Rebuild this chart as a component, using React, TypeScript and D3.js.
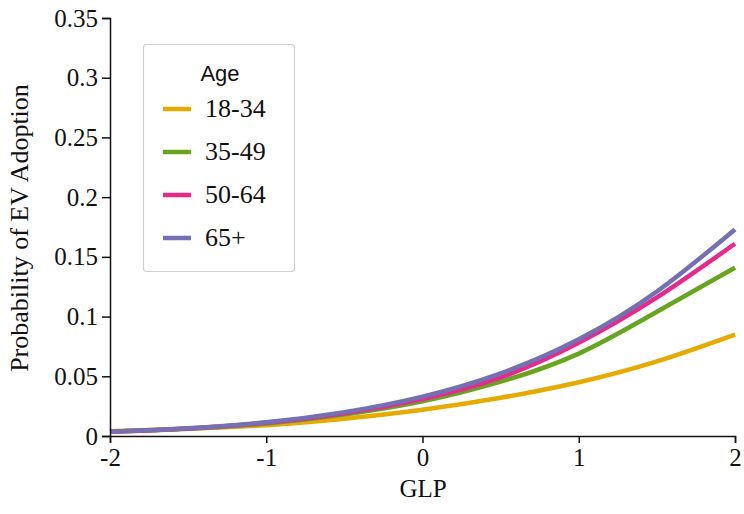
import React, { useEffect, useRef } from 'react';
import * as d3 from 'd3';

const glp = [-2, -1.5, -1, -0.5, 0, 0.5, 1, 1.5, 2];
const ages = ['18-34', '35-49', '50-64', '65+'];
const age1834 = [0.004, 0.006, 0.009, 0.0145, 0.022, 0.032, 0.045, 0.0625, 0.085];
const age3549 = [0.0035, 0.006, 0.0105, 0.018, 0.029, 0.0455, 0.069, 0.104, 0.141];
const age5064 = [0.0035, 0.0062, 0.011, 0.019, 0.031, 0.049, 0.078, 0.116, 0.161];
const age65 = [0.0035, 0.0065, 0.0115, 0.02, 0.033, 0.0525, 0.081, 0.121, 0.173];
const colors = ['#E6AB02', '#66A61E', '#E7298A', '#7570B3'];
const yTicks = [0, 0.05, 0.1, 0.15, 0.2, 0.25, 0.3, 0.35];
const xTicks = [-2, -1, 0, 1, 2];

const App = () => {
    const ref = useRef<SVGSVGElement>(null);

    useEffect(() => {
        const svg = d3.select(ref.current);
        svg.selectAll('*').remove();
        const serif = "'Liberation Serif', 'Times New Roman', serif";

        const x = d3.scaleLinear().domain([-2, 2]).range([110, 735]);
        const y = d3.scaleLinear().domain([0, 0.35]).range([436, 18]);

        const series = [age1834, age3549, age5064, age65];
        const line = d3.line<number>()
            .x((d, i) => x(glp[i]))
            .y(d => y(d))
            .curve(d3.curveNatural);

        series.forEach((s, i) => {
            svg.append('path')
                .attr('d', line(s))
                .attr('fill', 'none')
                .attr('stroke', colors[i])
                .attr('stroke-width', 4.5);
        });

        const yAxis = d3.axisLeft(y)
            .tickValues(yTicks)
            .tickFormat(d => String(+d))
            .tickSize(8)
            .tickPadding(4);
        const gy = svg.append('g')
            .attr('transform', 'translate(110,0)')
            .call(yAxis);

        const xAxis = d3.axisBottom(x)
            .tickValues(xTicks)
            .tickFormat(d => String(d))
            .tickSize(7)
            .tickPadding(5);
        const gx = svg.append('g')
            .attr('transform', 'translate(0,436)')
            .call(xAxis);

        [gx, gy].forEach(g => {
            g.attr('font-family', null).attr('font-size', null);
            g.selectAll('text')
                .style('font-family', serif)
                .style('font-size', '25px')
                .attr('fill', '#111');
        });

        svg.selectAll('.domain, .tick line')
            .attr('stroke', '#111')
            .attr('stroke-width', 1.5);

        svg.append('text')
            .attr('x', 423)
            .attr('y', 497)
            .attr('text-anchor', 'middle')
            .style('font-family', serif)
            .style('font-size', '25px')
            .attr('fill', '#111')
            .text('GLP');

        svg.append('text')
            .attr('transform', 'translate(28,228) rotate(-90)')
            .attr('text-anchor', 'middle')
            .style('font-family', serif)
            .style('font-size', '26px')
            .attr('fill', '#111')
            .text('Probability of EV Adoption');

        // legend
        const lg = svg.append('g');
        lg.append('rect')
            .attr('x', 143.5)
            .attr('y', 44.5)
            .attr('width', 151)
            .attr('height', 227)
            .attr('rx', 3)
            .attr('fill', 'white')
            .attr('stroke', '#d0d0d0')
            .attr('stroke-width', 1.2);
        lg.append('text')
            .attr('x', 220)
            .attr('y', 81)
            .attr('text-anchor', 'middle')
            .style('font-family', "'Liberation Sans', Arial, sans-serif")
            .style('font-size', '22px')
            .attr('fill', '#111')
            .text('Age');
        ages.forEach((a, i) => {
            const cy = 109 + i * 43;
            lg.append('line')
                .attr('x1', 163)
                .attr('x2', 191)
                .attr('y1', cy)
                .attr('y2', cy)
                .attr('stroke', colors[i])
                .attr('stroke-width', 4.5);
            lg.append('text')
                .attr('x', 205)
                .attr('y', cy + 8)
                .style('font-family', serif)
                .style('font-size', '26px')
                .attr('fill', '#111')
                .text(a);
        });
    }, []);

    return (
        <svg ref={ref} width={744} height={514}
            style={{ position: 'absolute', left: 0, top: 0, background: 'white' }} />
    );
};

export default App;
